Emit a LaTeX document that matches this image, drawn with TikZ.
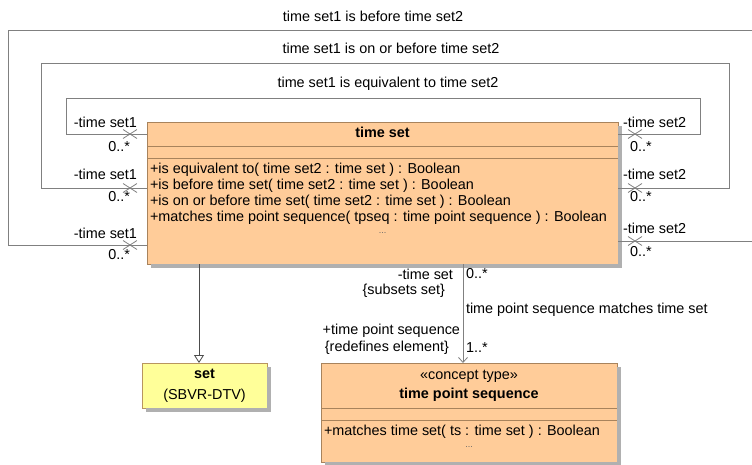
\documentclass[tikz,border=0pt]{standalone}
\usepackage{fontspec}
\setmainfont{Liberation Sans}
\usetikzlibrary{arrows.meta,shapes.misc,calc}
\definecolor{boxfill}{HTML}{FFCC99}
\definecolor{boxline}{HTML}{A8835C}
\definecolor{setfill}{HTML}{FFFF99}
\definecolor{setline}{HTML}{B8955F}
\definecolor{wire}{HTML}{808080}
\definecolor{shade}{HTML}{B0B0B0}
\begin{document}
\begin{tikzpicture}[x=1pt,y=-1pt,
  every node/.style={font=\fontsize{14.4}{16}\selectfont, inner sep=0pt, outer sep=0pt},
  cls/.style={draw=boxline, fill=boxfill, line width=0.8pt},
  setcls/.style={cls, draw=setline, fill=setfill},
  bold/.style={font=\fontsize{14.4}{16}\selectfont\bfseries},
  wireline/.style={draw=wire, line width=0.8pt},
  xmark/.style={cross out, draw=wire, line width=0.8pt, minimum width=14pt, minimum height=9pt},
  dots/.style={font=\fontsize{9}{10}\selectfont, text=black!60},
  shadowfill/.style={fill=shade}]
\useasboundingbox (0,0) rectangle (752,464);

% classes
\node[cls, minimum width=471pt, minimum height=142pt] (ts) at (382.5,193) {};
\node[setcls, minimum width=125pt, minimum height=45pt] (set) at (204.5,385.5) {};
\node[cls, minimum width=296pt, minimum height=99pt] (tps) at (469,412.5) {};

% shadows
\foreach \n in {ts, set, tps}{
  \fill[shadowfill] ($(\n.north east)+(0.4,4)$) rectangle ($(\n.south east)+(4,4)$);
  \fill[shadowfill] ($(\n.south west)+(4,0.4)$) rectangle ($(\n.south east)+(4,4)$);
}

% time set contents
\node[bold] (tstitle) at (382.5,132) {time set};
\draw[boxline, line width=0.8pt] ($(ts.north west)+(0,24)$) -- ($(ts.north east)+(0,24)$);
\draw[boxline, line width=0.8pt] ($(ts.north west)+(0,36)$) -- ($(ts.north east)+(0,36)$);
\node[anchor=west] (m1) at (150,170) {+is equivalent to( time set2 : time set ) : Boolean};
\node[anchor=west] (m2) at (150,186) {+is before time set( time set2 : time set ) : Boolean};
\node[anchor=west] (m3) at (150,202) {+is on or before time set( time set2 : time set ) : Boolean};
\node[anchor=west] (m4) at (150,218) {+matches time point sequence( tpseq : time point sequence ) : Boolean};
\node[dots] (m5) at (382.5,233) {...};

% set contents
\node[bold] (settitle) at (204.5,374) {set};
\node (setpkg) at (204.5,396) {(SBVR-DTV)};

% time point sequence contents
\node (tpsst) at (469,376) {«concept type»};
\node[bold] (tpstitle) at (469,395) {time point sequence};
\draw[boxline, line width=0.8pt] ($(tps.north west)+(0,45)$) -- ($(tps.north east)+(0,45)$);
\draw[boxline, line width=0.8pt] ($(tps.north west)+(0,57)$) -- ($(tps.north east)+(0,57)$);
\node[anchor=west] (tm1) at (324,432) {+matches time set( ts : time set ) : Boolean};
\node[dots] (tm2) at (469,447) {...};

% reflexive associations
\coordinate (a1) at ($(ts.north west)+(0,12)$);
\coordinate (b1) at ($(ts.north east)+(0,12)$);
\coordinate (a2) at ($(ts.north west)+(0,66)$);
\coordinate (b2) at ($(ts.north east)+(0,66)$);
\coordinate (a3) at ($(ts.north west)+(0,123)$);
\coordinate (b3) at ($(ts.north east)+(0,119)$);
\draw[wireline] (a1) -| (66,98) -- (700,98) |- (b1);
\draw[wireline] (a2) -| (41,63) -- (729,63) |- (b2);
\draw[wireline] (a3) -| (8,30) -- (770,30) |- (b3);

\node (l1) at (388,84) {time set1 is equivalent to time set2};
\node (l2) at (391,48) {time set1 is on or before time set2};
\node (l3) at (373,16) {time set1 is before time set2};

\foreach \p/\q in {a1/x1, a2/x2, a3/x3}{
  \node[xmark] (\q) at ($(\p)+(-17,0)$) {};
}
\foreach \p/\q in {b1/y1, b2/y2, b3/y3}{
  \node[xmark] (\q) at ($(\p)+(17,0)$) {};
}

\node[anchor=east] (r1a) at (137,122) {-time set1};
\node[anchor=east] (r1b) at (130,147) {0..*};
\node[anchor=east] (r2a) at (137,174) {-time set1};
\node[anchor=east] (r2b) at (130,197) {0..*};
\node[anchor=east] (r3a) at (137,233) {-time set1};
\node[anchor=east] (r3b) at (130,255) {0..*};
\node[anchor=west] (s1a) at (623,122) {-time set2};
\node[anchor=west] (s1b) at (630,147) {0..*};
\node[anchor=west] (s2a) at (623,174) {-time set2};
\node[anchor=west] (s2b) at (630,197) {0..*};
\node[anchor=west] (s3a) at (623,228) {-time set2};
\node[anchor=west] (s3b) at (630,252) {0..*};

% generalization
\coordinate (g1) at (199,264);
\draw[draw=black!70, line width=0.8pt, -{Triangle[open, width=10pt, length=8pt, fill=white]}] (g1) -- (g1 |- set.north);

% association
\coordinate (h1) at (463,264);
\draw[wireline, -{Straight Barb[length=5pt, width=9pt]}] (h1) -- (h1 |- tps.north);
\node[anchor=east] (e1) at (453,274) {-time set};
\node[anchor=east] (e2) at (445,291) {\{subsets set\}};
\node[anchor=west] (e3) at (466,274) {0..*};
\node[anchor=west] (e4) at (466,310) {time point sequence matches time set};
\node[anchor=east] (e5) at (460,331) {+time point sequence};
\node[anchor=east] (e6) at (449,348) {\{redefines element\}};
\node[anchor=west] (e7) at (466,348) {1..*};
\end{tikzpicture}
\end{document}
